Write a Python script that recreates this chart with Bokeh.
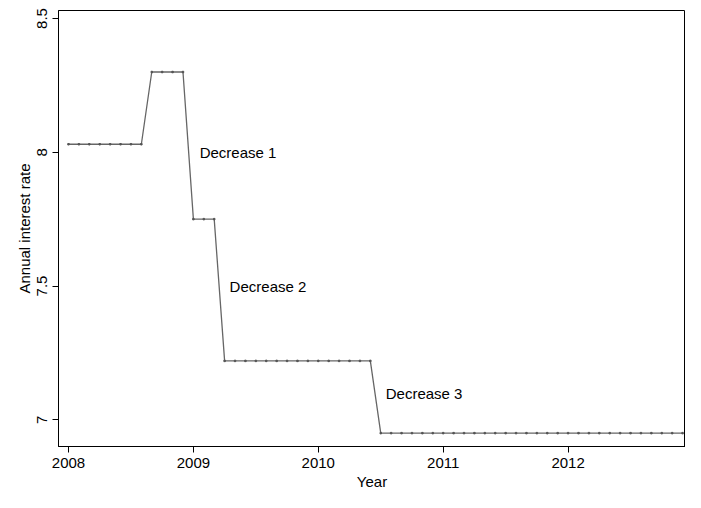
from bokeh.plotting import figure
from bokeh.models import FixedTicker, Range1d
from bokeh.core.properties import value
from bokeh.embed import file_html
from bokeh.resources import INLINE

# monthly rates, Jan 2008 .. Dec 2012
rate_2008 = [8.03] * 8 + [8.30] * 4
rate_2009 = [7.75] * 3 + [7.22] * 9
rate_2010 = [7.22] * 6 + [6.95] * 6
rate_2011 = [6.95] * 12
rate_2012 = [6.95] * 12
rates = rate_2008 + rate_2009 + rate_2010 + rate_2011 + rate_2012
years = [2008 + m / 12 for m in range(len(rates))]

label_text = ["Decrease 1", "Decrease 2", "Decrease 3"]
label_x = [2009.05, 2009.29, 2010.54]
label_y = [8.0, 7.5, 7.1]

p = figure(width=685, height=492, output_backend="svg", toolbar_location=None,
           x_range=Range1d(2007.92, 2012.94), y_range=Range1d(6.9, 8.53),
           x_axis_label="Year", y_axis_label="Annual interest rate",
           min_border_left=58, min_border_top=10, min_border_right=0, min_border_bottom=36)
p.grid.visible = False
p.outline_line_color = "black"
p.outline_line_width = 1

p.line(years, rates, line_color="#666666", line_width=1.3)
p.scatter(years, rates, marker="square", size=1.5, color="#555555")
p.text(label_x, label_y, text=label_text, text_align="left", text_baseline="middle",
       text_font=value("Liberation Sans"), text_font_size="15px", text_color="black")

p.xaxis.ticker = FixedTicker(ticks=[2008, 2009, 2010, 2011, 2012])
p.yaxis.ticker = FixedTicker(ticks=[7, 7.5, 8, 8.5])
p.yaxis.major_label_orientation = "vertical"
for ax in (p.xaxis, p.yaxis):
    ax.minor_tick_line_color = None
    ax.major_label_text_font = "Liberation Sans"
    ax.major_label_text_font_size = "15px"
    ax.major_label_text_color = "black"
    ax.axis_label_text_font = "Liberation Sans"
    ax.axis_label_text_font_size = "15px"
    ax.axis_label_text_font_style = "normal"
    ax.axis_label_text_color = "black"
    ax.major_tick_out = 6
    ax.major_tick_in = 0
    ax.axis_line_color = "black"
    ax.major_tick_line_color = "black"
    ax.axis_label_standoff = 2

open("out.html", "w").write(file_html(p, INLINE))
